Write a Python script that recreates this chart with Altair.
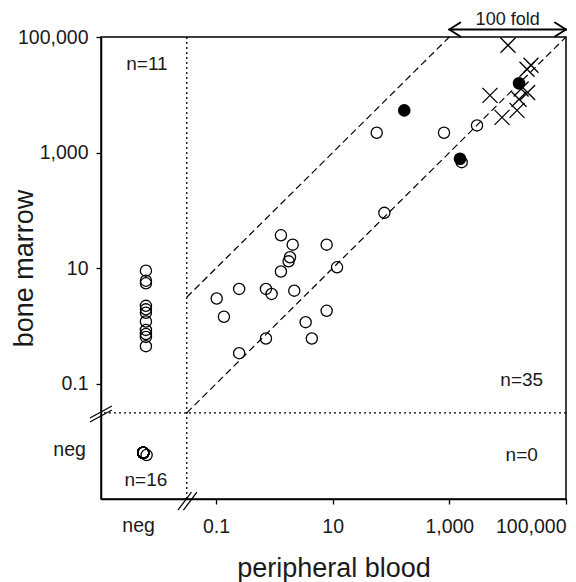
import altair as alt
import pandas as pd

FONT = "Liberation Sans"
INK = "#1a1a1a"

# ---------------- values ----------------
# peripheral blood (x) / bone marrow (y), both positive
open_pb = [1.30, 2.07, 7.9, 1.86, 1.76, 1.30, 11.9, 0.25, 0.72, 0.90, 2.2, 0.103,
           0.137, 7.9, 3.45, 0.72, 4.4, 0.25, 57, 811, 2985, 77, 1630]
open_bm = [37.2, 25.6, 25.6, 15.5, 13.2, 8.8, 10.4, 4.4, 4.4, 3.6, 4.1, 3.0,
           1.45, 1.84, 1.17, 0.61, 0.61, 0.34, 2210, 2210, 2960, 91, 684]
filled_pb = [169, 1524, 15670]
filled_bm = [5380, 783, 15810]
cross_pb = [10140, 21480, 25120, 4980, 15670, 14450, 8000, 17000, 22000]
cross_bm = [71940, 27670, 32430, 9790, 8360, 5380, 4070, 12600, 11000]
# peripheral blood negative, bone marrow positive (n=11)
negpb_bm = [9.1, 6.1, 5.5, 2.24, 1.95, 1.70, 1.20, 0.86, 0.73, 0.65, 0.45]
# both negative (n=16)
n_negneg = 16

tick_vals = [0.1, 10, 1000, 100000]
quad_labels = ["n=11", "n=35", "n=0", "n=16"]

# ---------------- layout helpers (positions on the log axes) ----------------
NEG = 10 ** -2.2          # where "neg" sits on both axes
CUT = 10 ** -1.5          # dotted cut-off lines
XMIN, XMAX = 10 ** -2.97, 1e5
YMIN, YMAX = 10 ** -2.99, 1e5

xs = alt.Scale(type="log", domain=[XMIN, XMAX], nice=False)
ys = alt.Scale(type="log", domain=[YMIN, YMAX], nice=False)

xaxis = alt.Axis(values=tick_vals, format=",", title="peripheral blood", grid=False,
                 tickSize=5, tickColor="black", tickWidth=1.3,
                 domainColor="black", domainWidth=1.5,
                 labelFont=FONT, labelFontSize=19.5, labelColor=INK, labelPadding=13,
                 titleFont=FONT, titleFontSize=27, titleFontWeight="normal",
                 titleColor=INK, titleY=77, titleBaseline="alphabetic")
yaxis = alt.Axis(values=tick_vals, format=",", title="bone marrow", grid=False,
                 tickSize=5, tickColor="black", tickWidth=1.3,
                 domainColor="black", domainWidth=1.5,
                 labelFont=FONT, labelFontSize=19.5, labelColor=INK, labelPadding=8,
                 titleFont=FONT, titleFontSize=27, titleFontWeight="normal",
                 titleColor=INK, titleX=-69, titleY=231, titleAngle=270,
                 titleAlign="center", titleBaseline="alphabetic")

X = alt.X("pb:Q", scale=xs, axis=xaxis)
Y = alt.Y("bm:Q", scale=ys, axis=yaxis)

# dotted cut-off lines
vdot = alt.Chart(pd.DataFrame({"pb": [CUT]})).mark_rule(
    color="black", strokeWidth=1.3, strokeDash=[2, 3]).encode(x=X)
hdot = alt.Chart(pd.DataFrame({"bm": [CUT]})).mark_rule(
    color="black", strokeWidth=1.3, strokeDash=[2, 3]).encode(y=Y)

# dashed identity line and 100-fold line
diag = pd.DataFrame({
    "pb": [CUT, XMAX, CUT, 1000],
    "bm": [CUT, YMAX, CUT * 100, YMAX],
    "line": ["eq", "eq", "fold", "fold"],
})
dashed = alt.Chart(diag).mark_line(color="black", strokeWidth=1.2,
                                   strokeDash=[7, 4]).encode(x=X, y=Y, detail="line:N")

circle_style = dict(shape="circle", filled=False, size=125, strokeWidth=1.3,
                    color="black", opacity=1)

opens = alt.Chart(pd.DataFrame({"pb": open_pb, "bm": open_bm})).mark_point(
    **circle_style).encode(x=X, y=Y)
negcol = alt.Chart(pd.DataFrame({"pb": [NEG] * len(negpb_bm), "bm": negpb_bm})).mark_point(
    **circle_style).encode(x=X, y=Y)
# both-negative group: drawn stacked at the neg/neg spot, one slightly apart
nn_pb = [10 ** -2.246] * (n_negneg - 1) + [10 ** -2.188]
nn_bm = [10 ** -2.19] * (n_negneg - 1) + [10 ** -2.23]
negneg = alt.Chart(pd.DataFrame({"pb": nn_pb, "bm": nn_bm})).mark_point(
    **circle_style).encode(x=X, y=Y)

filled = alt.Chart(pd.DataFrame({"pb": filled_pb, "bm": filled_bm})).mark_circle(
    size=160, color="black", opacity=1).encode(x=X, y=Y)

crosses = alt.Chart(pd.DataFrame({"pb": cross_pb, "bm": cross_bm})).mark_point(
    shape="M-1,-1L1,1M-1,1L1,-1", size=225, strokeWidth=1.3, color="black",
    filled=False, opacity=1).encode(x=X, y=Y)

# quadrant counts
qdf = pd.DataFrame({
    "pb": [10 ** -2.183, 10 ** 4.241, 10 ** 4.241, 10 ** -2.2],
    "bm": [10 ** 4.437, 10 ** -1.035, 10 ** -2.328, 10 ** -2.766],
    "t": quad_labels,
})
qtext = alt.Chart(qdf).mark_text(font=FONT, fontSize=19, color=INK,
                                 baseline="alphabetic", align="center").encode(
    x=X, y=Y, text="t:N")

# "neg" tick labels
negx = alt.Chart(pd.DataFrame({"pb": [10 ** -2.325], "bm": [10 ** -3.554], "t": ["neg"]})).mark_text(
    font=FONT, fontSize=19.5, color=INK, baseline="alphabetic", align="center").encode(
    x=X, y=Y, text="t:N")
negy = alt.Chart(pd.DataFrame({"pb": [10 ** -3.229], "bm": [10 ** -2.247], "t": ["neg"]})).mark_text(
    font=FONT, fontSize=19.5, color=INK, baseline="alphabetic", align="right").encode(
    x=X, y=Y, text="t:N")

# axis-break marks
brk = pd.DataFrame({
    "pb":  [10 ** -1.651, 10 ** -1.557, 10 ** -3.160, 10 ** -3.160],
    "pb2": [10 ** -1.420, 10 ** -1.326, 10 ** -2.783, 10 ** -2.783],
    "bm":  [10 ** -3.182, 10 ** -3.182, 10 ** -1.658, 10 ** -1.589],
    "bm2": [10 ** -2.870, 10 ** -2.870, 10 ** -1.450, 10 ** -1.381],
})
breaks = alt.Chart(brk).mark_rule(color="black", strokeWidth=1.3).encode(
    x=X, x2="pb2:Q", y=Y, y2="bm2:Q")

# 100-fold double arrow above the plot
AY = 10 ** 5.13
arr = pd.DataFrame({
    "pb":  [1000, 1000, 1000, 1e5, 1e5],
    "pb2": [1e5, 10 ** 3.189, 10 ** 3.189, 10 ** 4.811, 10 ** 4.811],
    "bm":  [AY, AY, AY, AY, AY],
    "bm2": [AY, 10 ** 5.251, 10 ** 5.009, 10 ** 5.251, 10 ** 5.009],
})
arrow = alt.Chart(arr).mark_rule(color="black", strokeWidth=2, strokeCap="round").encode(
    x=X, x2="pb2:Q", y=Y, y2="bm2:Q")
fold = alt.Chart(pd.DataFrame({"pb": [1e4], "bm": [10 ** 5.216], "t": ["100 fold"]})).mark_text(
    font=FONT, fontSize=18, color=INK, baseline="alphabetic", align="center").encode(
    x=X, y=Y, text="t:N")

chart = alt.layer(vdot, hdot, dashed, opens, negcol, negneg, filled, crosses,
                  qtext, negx, negy, breaks, arrow, fold).properties(
    width=465, height=462,
    autosize=alt.AutoSizeParams(type="none"),
    padding={"left": 93, "top": 29, "right": 2, "bottom": 83},
).configure_view(stroke="black", strokeWidth=1.5)

chart.save("out.html", embed_options={"renderer": "svg", "actions": False})
